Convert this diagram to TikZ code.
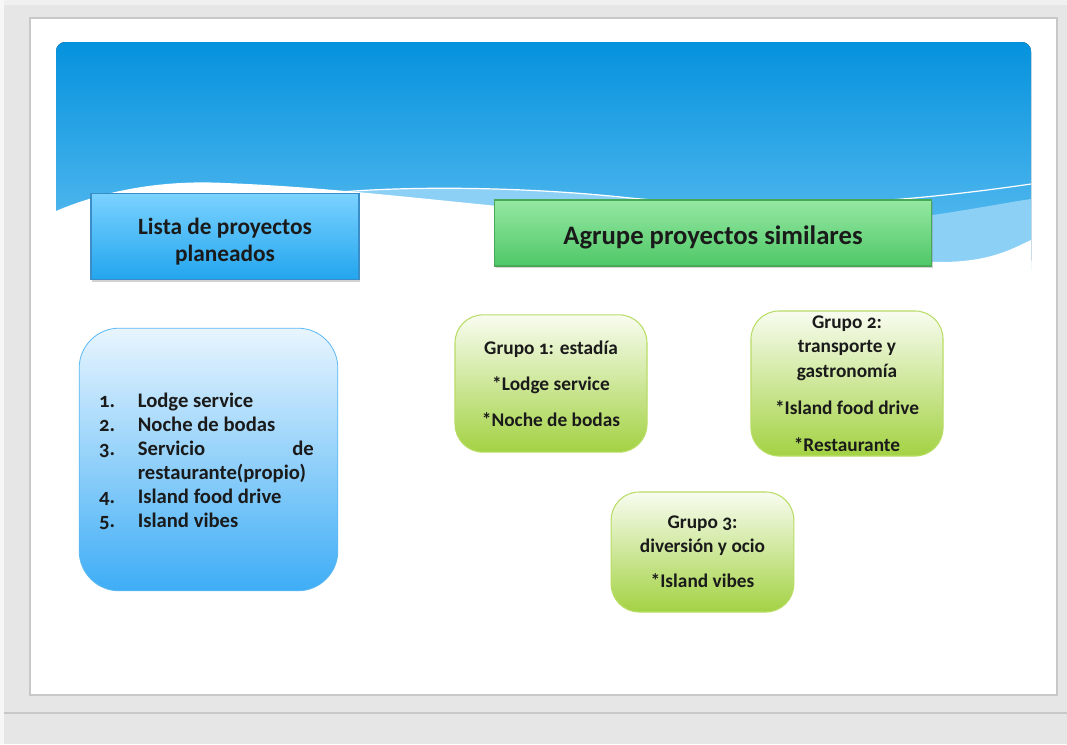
\documentclass[tikz,border=0pt]{standalone}
\usepackage{fontspec}
\setmainfont{Carlito}[Numbers=OldStyle]
\usepackage{tikz}
\usetikzlibrary{shadows}
\usetikzlibrary{positioning}
\definecolor{bggray}{HTML}{E6E6E6}
\definecolor{framegray}{HTML}{C8C8C8}
\definecolor{skytop}{HTML}{0592DD}
\definecolor{skybot}{HTML}{62C0F2}
\definecolor{bandblue}{HTML}{8DD0F6}
\definecolor{headbtop}{HTML}{7BD2FF}
\definecolor{headbbot}{HTML}{22A5EE}
\definecolor{headbline}{HTML}{3A8DC6}
\definecolor{headgtop}{HTML}{95E8A2}
\definecolor{headgbot}{HTML}{4FC767}
\definecolor{headgline}{HTML}{48A957}
\definecolor{listtop}{HTML}{E8F5FE}
\definecolor{listbot}{HTML}{3EADF6}
\definecolor{listline}{HTML}{5DB9F2}
\definecolor{grptop}{HTML}{F8FCF0}
\definecolor{grpbot}{HTML}{A3D243}
\definecolor{grpline}{HTML}{B9DD66}
\definecolor{ink}{HTML}{1A1A1A}
\tikzset{
    headb/.style = {rectangle, draw=headbline, top color=headbtop, bottom color=headbbot, line width=0.8pt, align=center, text=ink, font=\fontsize{17.5}{20}\selectfont\bfseries, minimum width=201pt, minimum height=65pt, drop shadow={opacity=0.35, shadow xshift=1pt, shadow yshift=-1.5pt}},
    headg/.style = {rectangle, draw=headgline, top color=headgtop, bottom color=headgbot, line width=0.8pt, align=center, text=ink, font=\fontsize{20}{22}\selectfont\bfseries, minimum width=328pt, minimum height=49.5pt, drop shadow={opacity=0.35, shadow xshift=1pt, shadow yshift=-1.5pt}},
    listnode/.style = {rectangle, rounded corners=30pt, draw=listline, top color=listtop, bottom color=listbot, line width=0.6pt, text=ink, font=\fontsize{15.5}{18}\selectfont\bfseries, minimum width=194pt, minimum height=197pt},
    groupnode/.style = {rectangle, rounded corners=21pt, draw=grpline, top color=grptop, bottom color=grpbot, line width=0.8pt, align=center, text=ink, font=\fontsize{14.5}{18}\selectfont\bfseries, minimum width=144pt, minimum height=103pt},
}

\begin{document}
\begin{tikzpicture}[x=0.75pt, y=-0.75pt]
  \useasboundingbox (0,0) rectangle (1067,744);
  % window and slide
  \fill[bggray] (0,0) rectangle (1067,744);
  \fill[gray!12] (0,0) rectangle (1067,5);
  \fill[gray!6] (0,0) rectangle (4,744);
  \draw[framegray, line width=1.2pt] (4,713) -- (1067,713);
  \draw[framegray, fill=white, line width=0.9pt] (30,18) rectangle (1057,695);

  % sky banner with waves
  \fill[top color=skytop, bottom color=skybot, rounded corners=7pt] (56,270) -- (56,42) -- (1031,42) -- (1031,270) [sharp corners] -- cycle;
  \fill[bandblue] (330,193) .. controls (400,186) and (520,186) .. (630,198) .. controls (760,212) and (880,222) .. (933,215) .. controls (980,208) and (1010,202) .. (1031,199) -- (1031,270) -- (330,270) -- cycle;
  \draw[white, line width=0.9pt] (330,193) .. controls (400,186) and (520,186) .. (630,198) .. controls (760,210) and (880,206) .. (1031,184);
  \fill[white] (56,211) .. controls (110,188) and (170,180) .. (225,183) .. controls (330,187) and (430,200) .. (560,212) .. controls (700,228) and (850,262) .. (945,262) .. controls (990,261) and (1010,250) .. (1031,240) -- (1031,275) -- (56,275) -- cycle;

  % headers
  \node[headb] (lista) at (225,236.5) {\raisebox{-4.5pt}[\height][\depth]{\begin{tabular}{@{}c@{}}Lista de proyectos\\planeados\end{tabular}}};
  \node[headg] (agrupe) at (713,233) {\raisebox{-3.5pt}[\height][\depth]{Agrupe proyectos similares}};

  % planned projects
  \node[listnode] (proyectos) at (208.5,459.5) {%
    \raisebox{-2.25pt}[\height][\depth]{\hspace*{-3pt}\begin{tabular}{@{}p{29pt}@{}p{132pt}@{}}
      1. & Lodge service\\
      2. & Noche de bodas\\
      3. & Servicio\hfill de\\
         & restaurante(propio)\\
      4. & Island food drive\\
      5. & Island vibes
    \end{tabular}}};

  % groups
  \node[groupnode] (grupo1) at (551,383.5) {Grupo 1: estadía\\[9pt]*Lodge service\\[9pt]*Noche de bodas};
  \node[groupnode] (grupo2) at (847,383.5) {Grupo 2:\\[0.5pt]transporte y\\[0.5pt]gastronomía\\[9.5pt]*Island food drive\\[10pt]*Restaurante};
  \node[groupnode, minimum width=137pt, minimum height=90pt] (grupo3) at (702.5,552) {Grupo 3:\\diversión y ocio\\[8pt]*Island vibes};
\end{tikzpicture}
\end{document}
